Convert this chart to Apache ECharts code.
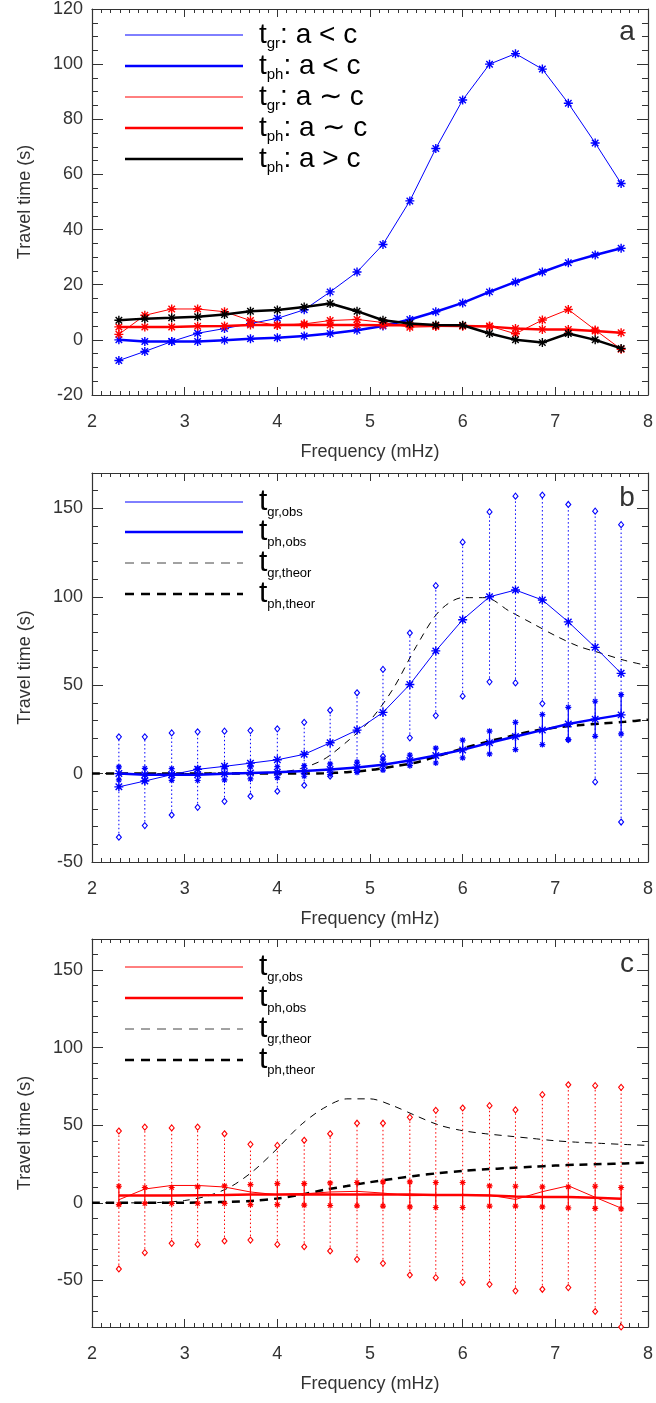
<!DOCTYPE html>
<html>
<head>
<meta charset="utf-8">
<title>Travel time vs frequency</title>
<script src="https://cdn.jsdelivr.net/npm/echarts@6.0.0/dist/echarts.min.js"></script>
<style>
  html, body { margin: 0; padding: 0; background: #fff; }
  #chart { width: 656px; height: 1403px; }
</style>
</head>
<body>
<div id="chart"></div>
<script>
// Observed frequencies (mHz)
const freq = [2.29, 2.57, 2.86, 3.14, 3.43, 3.71, 4.00, 4.29, 4.57, 4.86,
              5.14, 5.43, 5.71, 6.00, 6.29, 6.57, 6.86, 7.14, 7.43, 7.71];

// a < c case (blue)
const tgrBlue = [-7.5, -4.2, -0.6, 2.4, 4.1, 5.9, 7.8, 10.9, 17.4, 24.6,
                 34.6, 50.4, 69.4, 87.0, 100.0, 103.8, 98.2, 85.8, 71.4, 56.7];
const tphBlue = [0.0, -0.6, -0.6, -0.6, -0.1, 0.4, 0.8, 1.4, 2.3, 3.5,
                 5.0, 7.4, 10.2, 13.4, 17.4, 21.0, 24.6, 28.0, 30.8, 33.2];

// a ~ c case (red)
const tgrRed = [2.0, 8.9, 11.2, 11.2, 10.2, 7.0, 5.2, 5.8, 7.0, 7.4,
                6.3, 4.6, 4.8, 5.0, 5.0, 2.2, 7.2, 11.0, 3.6, -3.4];
const tphRed = [4.7, 4.7, 4.7, 4.9, 5.0, 5.4, 5.4, 5.5, 5.4, 5.4,
                5.3, 5.3, 5.1, 5.0, 4.8, 4.1, 3.8, 3.8, 3.2, 2.6];

// a > c case (black)
const tphBlack = [7.1, 7.7, 8.0, 8.4, 9.2, 10.4, 10.8, 11.9, 13.2, 10.4,
                  7.1, 5.9, 5.4, 5.3, 2.3, 0.0, -1.0, 2.3, 0.0, -3.1];

// Error ranges, a < c
const tgrHiB = [20.8, 20.8, 23.0, 23.6, 24.0, 24.3, 25.3, 29.0, 35.8, 45.7,
                58.9, 79.5, 106.3, 130.9, 148.0, 156.9, 157.5, 152.2, 148.4, 140.8];
const tgrLoB = [-36.0, -29.4, -23.4, -19.1, -15.7, -12.8, -10.0, -6.6, -1.5, 1.7,
                9.8, 20.2, 32.8, 43.8, 51.9, 51.3, 39.6, 19.2, -4.7, -27.4];
const tphHiB = [3.8, 3.0, 2.8, 3.0, 3.6, 3.8, 3.9, 4.5, 5.5, 6.5,
                8.2, 10.5, 14.4, 18.9, 24.0, 29.0, 33.4, 37.5, 40.9, 44.7];
const tphLoB = [-3.6, -3.9, -3.8, -3.9, -3.6, -3.0, -2.3, -1.5, -0.5, 0.7,
                2.0, 4.5, 6.0, 8.9, 11.1, 13.6, 16.4, 19.2, 21.1, 22.5];

// Error ranges, a ~ c
const tgrHiC = [46.3, 48.8, 48.3, 48.8, 44.5, 37.7, 37.0, 40.3, 44.5, 51.3,
                51.3, 55.1, 59.6, 61.1, 62.6, 59.9, 69.7, 76.1, 75.5, 74.4];
const tgrLoC = [-42.6, -32.1, -26.1, -26.8, -24.6, -24.0, -26.8, -28.3, -31.0, -36.4,
                -39.0, -46.5, -48.2, -51.2, -52.5, -56.7, -55.7, -54.6, -70.0, -80.0];
const tphHiC = [10.7, 9.9, 9.9, 10.3, 10.9, 11.8, 12.4, 12.4, 12.8, 13.1,
                13.5, 13.5, 13.1, 13.1, 10.9, 10.7, 10.3, 10.3, 10.7, 9.9];
const tphLoC = [-1.1, -0.4, -0.4, -0.4, -0.4, -1.1, -1.1, -1.5, -1.7, -1.9,
                -2.1, -2.6, -3.0, -3.0, -2.1, -2.1, -2.6, -3.2, -3.6, -3.9];

// Theoretical curves on a regular frequency grid
const freqT = [2.00, 2.25, 2.50, 2.75, 3.00, 3.25, 3.50, 3.75, 4.00, 4.25, 4.50, 4.75, 5.00,
               5.25, 5.50, 5.75, 6.00, 6.25, 6.50, 6.75, 7.00, 7.25, 7.50, 7.75, 8.00];
const tgrTheorB = [0, 0, 0, 0, 0, 0.2, 0.4, 0.6, 0.8, 2.8, 8, 18, 30,
                   48, 72, 92, 99.5, 99.5, 92, 85, 78, 72, 68, 64, 61];
const tphTheorB = [0, 0, 0, 0, 0, 0, 0, 0, 0, 0, 0.2, 0.8, 2,
                   4, 6.3, 10.2, 14.2, 17.8, 21, 24, 26, 27.3, 28.3, 29.3, 30.5];
const tgrTheorC = [0, 0, 0, 0.3, 1.5, 4.5, 10.5, 21, 35, 50, 61, 67, 67,
                   62.5, 56, 50, 46.5, 44.5, 43, 41.5, 40, 39, 38.3, 37.6, 37];
const tphTheorC = [0, 0, 0, 0, 0.1, 0.3, 0.7, 1.4, 2.8, 5.2, 8.3, 10.8, 13.3,
                   15.5, 17.5, 19.2, 20.6, 21.6, 22.4, 23.2, 24, 24.6, 25, 25.4, 26];

// Axis ranges and tick steps per panel
const yRanges = [[-20, 120], [-50, 170], [-80, 170]];
const yMajor = [20, 50, 50];
const yMinor = [5, 10, 10];
const panelLetters = ['a', 'b', 'c'];

const FONT = '"Liberation Sans", Arial, Helvetica, sans-serif';
const AXIS = '#333';
const BLUE = '#0000ff', RED = '#ff0000', BLACK = '#000000';
const BLUE_TXT = '#3c3cff', RED_TXT = '#ff3c3c', DARK_TXT = '#333333';
const STAR = 'path://M0,-5L0,5M-5,0L5,0M-3.6,-3.6L3.6,3.6M-3.6,3.6L3.6,-3.6';

const grids = [
  { left: 92, top: 7, width: 560, height: 388 },
  { left: 92, top: 473, width: 560, height: 389 },
  { left: 92, top: 939, width: 560, height: 388 }
];

const zip = (xs, ys) => xs.map((x, i) => [x, ys[i]]);
const majorsOf = (p) => {
  const out = [];
  const [lo, hi] = yRanges[p];
  for (let v = Math.ceil(lo / yMajor[p]) * yMajor[p]; v <= hi; v += yMajor[p]) out.push(v);
  return out;
};

const xAxes = [], yAxes = [];
for (let p = 0; p < 3; p++) {
  const xBase = {
    gridIndex: p, type: 'value', min: 2, max: 8, interval: 1,
    axisLine: { show: true, onZero: false, lineStyle: { color: AXIS, width: 1.2 } },
    axisTick: { show: true, inside: true, length: 8, lineStyle: { color: AXIS } },
    minorTick: { show: true, splitNumber: 10, length: 4, lineStyle: { color: AXIS } },
    splitLine: { show: false }, minorSplitLine: { show: false }
  };
  xAxes.push(Object.assign({}, xBase, {
    position: 'bottom',
    axisLabel: { fontSize: 18, color: AXIS, margin: 18, fontFamily: FONT },
    name: 'Frequency (mHz)', nameLocation: 'middle', nameGap: 48,
    nameTextStyle: { fontSize: 18, color: AXIS, fontFamily: FONT }
  }));
  xAxes.push(Object.assign({}, xBase, { position: 'top', axisLabel: { show: false } }));

  const [ymin, ymax] = yRanges[p];
  const majors = majorsOf(p);
  const minorAxis = (pos, withLabels) => ({
    gridIndex: p, type: 'value', min: ymin, max: ymax, interval: yMinor[p], position: pos,
    axisLine: { show: true, onZero: false, lineStyle: { color: AXIS, width: 1.2 } },
    axisTick: { show: true, inside: true, length: 6, lineStyle: { color: AXIS } },
    splitLine: { show: false },
    axisLabel: withLabels
      ? { show: true, fontSize: 18, color: AXIS, margin: 9, fontFamily: FONT,
          formatter: (v) => (Math.abs(v % yMajor[p]) < 1e-9 ? String(v) : '') }
      : { show: false }
  });
  const majorAxis = (pos) => ({
    gridIndex: p, type: 'value', min: ymin, max: ymax, position: pos,
    axisLine: { show: false, onZero: false },
    axisTick: { show: true, inside: true, length: 11, customValues: majors, lineStyle: { color: AXIS } },
    axisLabel: { show: false }, splitLine: { show: false }
  });
  const left = minorAxis('left', true);
  Object.assign(left, {
    name: 'Travel time (s)', nameLocation: 'middle', nameGap: 58,
    nameTextStyle: { fontSize: 18, color: AXIS, fontFamily: FONT }
  });
  yAxes.push(left, majorAxis('left'), minorAxis('right', false), majorAxis('right'));
}

// Series helpers
function obsLine(p, ys, color, width, withStars, z) {
  return {
    type: 'line', xAxisIndex: 2 * p, yAxisIndex: 4 * p, data: zip(freq, ys), z: z || 5,
    lineStyle: { color, width }, showAllSymbol: true, silent: true,
    symbol: withStars ? STAR : 'none', symbolSize: 9,
    itemStyle: { color, borderColor: color, borderWidth: 1.4 }
  };
}
function theorLine(p, ys, width, dash) {
  return {
    type: 'line', xAxisIndex: 2 * p, yAxisIndex: 4 * p, data: zip(freqT, ys), z: 3,
    smooth: 0.3, symbol: 'none', silent: true,
    lineStyle: { color: BLACK, width, type: dash }
  };
}
function errBars(p, lo, hi, color, width, dash) {
  return {
    type: 'custom', xAxisIndex: 2 * p, yAxisIndex: 4 * p, clip: true, silent: true, z: 4,
    data: freq.map((f, i) => [f, lo[i], hi[i]]),
    encode: { x: 0, y: [1, 2] },
    renderItem: (params, api) => {
      const a = api.coord([api.value(0), api.value(1)]);
      const b = api.coord([api.value(0), api.value(2)]);
      return { type: 'line', shape: { x1: a[0], y1: a[1], x2: b[0], y2: b[1] },
               style: { stroke: color, lineWidth: width, lineDash: dash } };
    }
  };
}
function ends(p, lo, hi, color, kind) {
  const diamond = kind === 'diamond';
  return {
    type: 'scatter', xAxisIndex: 2 * p, yAxisIndex: 4 * p, silent: true, z: 4,
    data: zip(freq, lo).concat(zip(freq, hi)),
    symbol: diamond ? 'diamond' : STAR, symbolSize: diamond ? [5, 6] : 6,
    itemStyle: diamond
      ? { color: '#ffffff', borderColor: color, borderWidth: 1.1, opacity: 1 }
      : { color, borderColor: color, borderWidth: 1.2, opacity: 1 }
  };
}

const series = [
  // a
  obsLine(0, tgrBlue, BLUE, 1, true, 5),
  obsLine(0, tphBlue, BLUE, 2.5, true, 5),
  obsLine(0, tgrRed, RED, 1, true, 6),
  obsLine(0, tphRed, RED, 2.5, true, 6),
  obsLine(0, tphBlack, BLACK, 2.5, true, 7),
  // b
  theorLine(1, tgrTheorB, 1, [7, 6]),
  theorLine(1, tphTheorB, 2.5, [8, 6]),
  errBars(1, tgrLoB, tgrHiB, BLUE, 1, [1.5, 2.5]),
  ends(1, tgrLoB, tgrHiB, BLUE, 'diamond'),
  errBars(1, tphLoB, tphHiB, BLUE, 1.2, null),
  ends(1, tphLoB, tphHiB, BLUE, 'star'),
  obsLine(1, tgrBlue, BLUE, 1, true, 6),
  obsLine(1, tphBlue, BLUE, 2.5, true, 6),
  // c
  theorLine(2, tgrTheorC, 1, [7, 6]),
  theorLine(2, tphTheorC, 2.5, [8, 6]),
  errBars(2, tgrLoC, tgrHiC, RED, 1, [1.5, 2.5]),
  ends(2, tgrLoC, tgrHiC, RED, 'diamond'),
  errBars(2, tphLoC, tphHiC, RED, 1.2, null),
  ends(2, tphLoC, tphHiC, RED, 'star'),
  obsLine(2, tgrRed, RED, 1, false, 6),
  obsLine(2, tphRed, RED, 2.5, false, 6)
];

// Legend entries drawn as graphic rows: [line colour, width, dash, text colour, subscript, tail]
const legendA = [
  [BLUE, 1, null, BLUE_TXT, 'gr', ': a < c'],
  [BLUE, 2.5, null, BLUE_TXT, 'ph', ': a < c'],
  [RED, 1, null, RED_TXT, 'gr', ': a \u223C c'],
  [RED, 2.5, null, RED_TXT, 'ph', ': a \u223C c'],
  [BLACK, 2.5, null, DARK_TXT, 'ph', ': a > c']
];
const legendB = [
  [BLUE, 1, null, BLUE_TXT, 'gr,obs', ''],
  [BLUE, 2.5, null, BLUE_TXT, 'ph,obs', ''],
  ['#444', 1, [9, 7], DARK_TXT, 'gr,theor', ''],
  [BLACK, 2.5, [9, 7], DARK_TXT, 'ph,theor', '']
];
const legendC = [
  [RED, 1, null, RED_TXT, 'gr,obs', ''],
  [RED, 2.5, null, RED_TXT, 'ph,obs', ''],
  ['#444', 1, [9, 7], DARK_TXT, 'gr,theor', ''],
  [BLACK, 2.5, [9, 7], DARK_TXT, 'ph,theor', '']
];
const legendRows = [[35, 66, 97, 128, 159], [502, 532, 563, 594], [967, 998, 1029, 1060]];

const graphics = [];
[legendA, legendB, legendC].forEach((rows, p) => {
  const big = p === 0 ? 28 : 30;
  const small = p === 0 ? 15 : 13;
  rows.forEach((r, i) => {
    const y = legendRows[p][i];
    graphics.push({
      type: 'line', silent: true, z: 10,
      shape: { x1: 125, y1: y, x2: 243, y2: y },
      style: { stroke: r[0], lineWidth: r[1], lineDash: r[2] }
    });
    const rich = {
      t: { fontSize: big, fontFamily: FONT, color: r[3], verticalAlign: 'top', lineHeight: big + 2 },
      s: { fontSize: small, fontFamily: FONT, color: r[3], verticalAlign: 'bottom', lineHeight: small },
      m: { fontSize: big, fontFamily: FONT, color: r[3], verticalAlign: 'top', lineHeight: big + 2 }
    };
    graphics.push({
      type: 'text', silent: true, z: 10, x: 259, y: y + 1,
      style: {
        text: '{t|t}{s|' + r[4] + '}' + (r[5] ? '{m|' + r[5] + '}' : ''),
        rich, verticalAlign: 'middle', align: 'left'
      }
    });
  });
  graphics.push({
    type: 'text', silent: true, z: 10,
    x: 627, y: grids[p].top + 25,
    style: { text: panelLetters[p], fontSize: 28, fontFamily: FONT, fill: DARK_TXT,
             align: 'center', verticalAlign: 'middle' }
  });
});

const chart = echarts.init(document.getElementById('chart'), null, { renderer: 'canvas' });
chart.setOption({
  animation: false,
  backgroundColor: '#ffffff',
  textStyle: { fontFamily: FONT },
  grid: grids,
  xAxis: xAxes,
  yAxis: yAxes,
  series,
  graphic: graphics
});
</script>
</body>
</html>
